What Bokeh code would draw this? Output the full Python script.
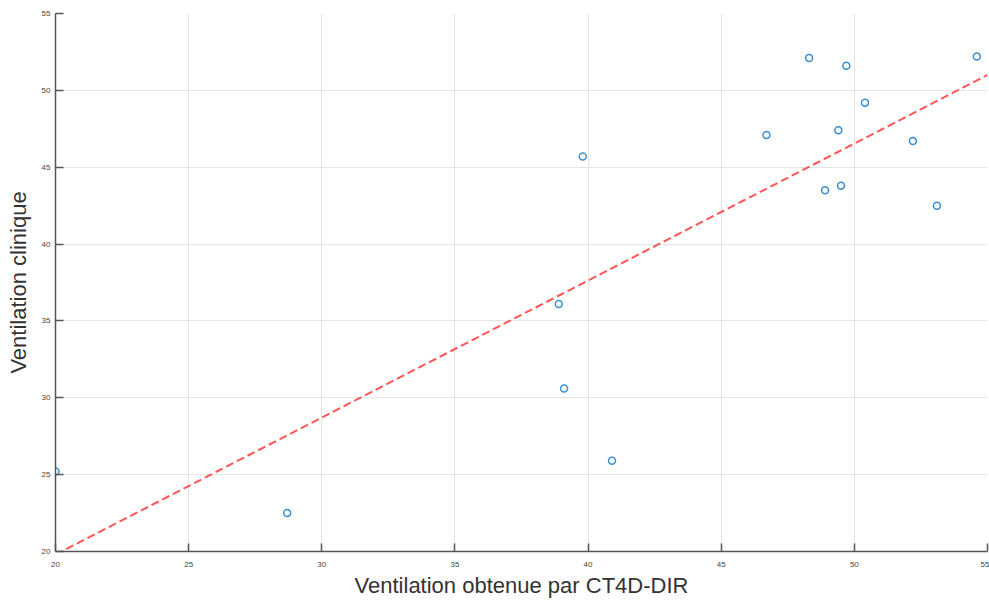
from bokeh.plotting import figure
from bokeh.models import Range1d, FixedTicker
from bokeh.embed import file_html
from bokeh.resources import INLINE

# Data
ct4d_dir = [20.0, 28.7, 38.9, 39.1, 39.8, 40.9, 46.7, 48.3, 48.9, 49.4, 49.5, 49.7, 50.4, 52.2, 53.1, 54.6]
clinique = [25.2, 22.5, 36.1, 30.6, 45.7, 25.9, 47.1, 52.1, 43.5, 47.4, 43.8, 51.6, 49.2, 46.7, 42.5, 52.2]

fit_x = [20.0, 55.0]
fit_y = [19.8, 51.0]

x_ticks = [20, 25, 30, 35, 40, 45, 50, 55]
y_ticks = [20, 25, 30, 35, 40, 45, 50, 55]

p = figure(width=989, height=600, output_backend="svg", toolbar_location=None,
           x_range=Range1d(20, 55), y_range=Range1d(20, 55),
           min_border_left=55, min_border_right=2, min_border_top=13, min_border_bottom=49)
p.outline_line_color = None
p.background_fill_color = "white"
p.border_fill_color = "white"

for ax, ticks in ((p.xaxis[0], x_ticks), (p.yaxis[0], y_ticks)):
    ax.ticker = FixedTicker(ticks=ticks)
    ax.major_tick_in = 8
    ax.major_tick_out = 0
    ax.minor_tick_line_color = None
    ax.axis_line_color = "#555555"
    ax.axis_line_width = 1.5
    ax.major_tick_line_color = "#555555"
    ax.major_tick_line_width = 1.5
    ax.major_label_text_font = "Liberation Sans"
    ax.major_label_text_font_size = "8px"
    ax.major_label_text_color = "#444444"
    ax.axis_label_text_font = "Liberation Sans"
    ax.axis_label_text_font_size = "22px"
    ax.axis_label_text_font_style = "normal"
    ax.axis_label_text_color = "#333333"

p.xaxis.axis_label = "Ventilation obtenue par CT4D-DIR"
p.yaxis.axis_label = "Ventilation clinique"
p.xaxis.major_label_standoff = 10
p.xaxis.axis_label_standoff = 3
p.yaxis.major_label_standoff = 5
p.yaxis.axis_label_standoff = 8

p.grid.grid_line_color = "#e4e4e4"
p.grid.grid_line_width = 1

p.line(fit_x, fit_y, line_color="#ff5555", line_width=2, line_dash="8 4")
p.scatter(ct4d_dir, clinique, marker="circle", size=7, fill_color=None,
          line_color="#3a8fd3", line_width=1.5)

open("out.html", "w").write(file_html(p, INLINE))
